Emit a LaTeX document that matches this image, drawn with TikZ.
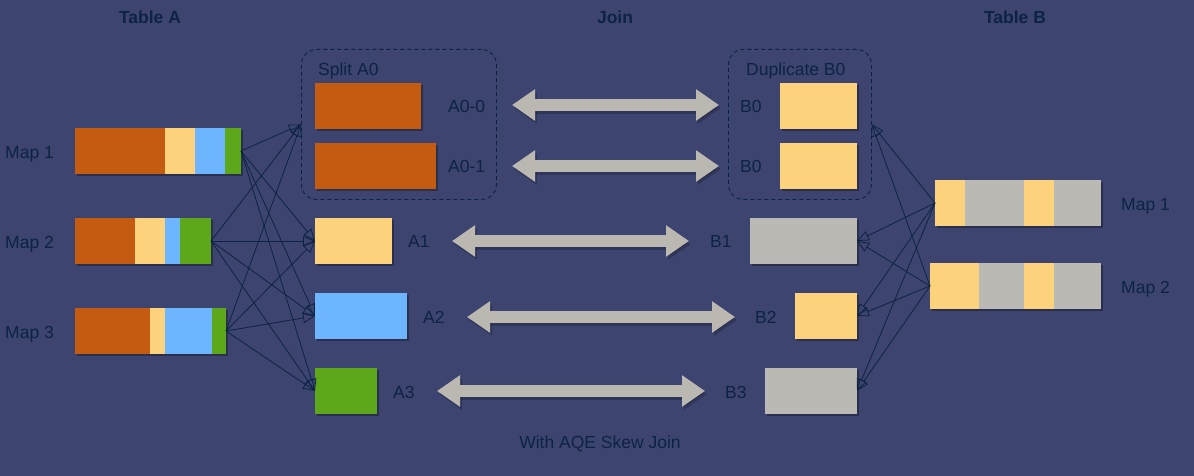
\documentclass[tikz,border=0pt]{standalone}
\usepackage{fontspec}
\setmainfont{Liberation Sans}
\usetikzlibrary{arrows.meta,shadows}
\definecolor{bg}{HTML}{3D4470}
\definecolor{txt}{HTML}{0C2344}
\definecolor{cor}{HTML}{C55A11}
\definecolor{cye}{HTML}{FDD27D}
\definecolor{cbl}{HTML}{6DB5FF}
\definecolor{cgr}{HTML}{5DA71B}
\definecolor{cgy}{HTML}{BBB9B3}
\definecolor{agrey}{HTML}{BAB8B1}
\begin{document}
\begin{tikzpicture}[x=1pt,y=-1pt,
  blk/.style={draw=none,inner sep=0pt,outer sep=0pt,anchor=north west,minimum height=46pt,
    drop shadow={shadow xshift=2pt,shadow yshift=-2pt,opacity=0.3,fill=black}},
  lbl/.style={text=txt,inner sep=0pt,text height=12.5pt,text depth=0pt,font=\fontsize{17.5}{20}\selectfont},
  ttl/.style={lbl,font=\fontsize{17.5}{20}\selectfont\bfseries},
  grp/.style={draw=txt,dash pattern=on 4pt off 3pt,rounded corners=15pt,line width=0.9pt,
    inner sep=0pt,anchor=north west},
  conn/.style={draw=txt,line width=0.8pt,-{Triangle[open,length=12pt,width=10pt]}},
  jarrow/.style={draw=agrey,line width=12pt,{Triangle[length=23pt,width=30pt]}-{Triangle[length=23pt,width=30pt]}},
  jshadow/.style={draw=black,opacity=0.2,line width=12pt,{Triangle[length=23pt,width=30pt]}-{Triangle[length=23pt,width=30pt]}},
]
\path[use as bounding box,fill=bg] (0,0) rectangle (1194,476);

% titles
\node[ttl] (tA) at (150,17) {Table A};
\node[ttl] (tJ) at (615,17) {Join};
\node[ttl] (tB) at (1015,17) {Table B};
\node[lbl] (foot) at (600,442) {With AQE Skew Join};

% Table A bars
\node[lbl,anchor=west] (lm1) at (5,152) {Map 1};
\node[lbl,anchor=west] (lm2) at (5,242) {Map 2};
\node[lbl,anchor=west] (lm3) at (5,332) {Map 3};

\node[blk,fill=cor,minimum width=90pt] (m1a) at (75,128) {};
\node[blk,fill=cye,minimum width=30pt] (m1b) at (165,128) {};
\node[blk,fill=cbl,minimum width=30pt] (m1c) at (195,128) {};
\node[blk,fill=cgr,minimum width=16pt] (m1g) at (225,128) {};

\node[blk,fill=cor,minimum width=60pt] (m2a) at (75,218) {};
\node[blk,fill=cye,minimum width=30pt] (m2b) at (135,218) {};
\node[blk,fill=cbl,minimum width=15pt] (m2c) at (165,218) {};
\node[blk,fill=cgr,minimum width=31pt] (m2g) at (180,218) {};

\node[blk,fill=cor,minimum width=75pt] (m3a) at (75,308) {};
\node[blk,fill=cye,minimum width=15pt] (m3b) at (150,308) {};
\node[blk,fill=cbl,minimum width=47pt] (m3c) at (165,308) {};
\node[blk,fill=cgr,minimum width=14pt] (m3g) at (212,308) {};

% Split A0 group
\node[grp,minimum width=195pt,minimum height=150pt] (split) at (301,49) {};
\node[lbl,anchor=west] (lsplit) at (318,69) {Split A0};
\node[blk,fill=cor,minimum width=106pt] (A00) at (315,83) {};
\node[blk,fill=cor,minimum width=121pt] (A01) at (315,143) {};
\node[lbl,anchor=west] (lA00) at (448,106) {A0-0};
\node[lbl,anchor=west] (lA01) at (448,166) {A0-1};

\node[blk,fill=cye,minimum width=77pt] (A1) at (315,218) {};
\node[blk,fill=cbl,minimum width=92pt] (A2) at (315,293) {};
\node[blk,fill=cgr,minimum width=62pt] (A3) at (315,368) {};
\node[lbl,anchor=west] (lA1) at (408,241) {A1};
\node[lbl,anchor=west] (lA2) at (423,317) {A2};
\node[lbl,anchor=west] (lA3) at (393,392) {A3};

% Duplicate B0 group
\node[grp,minimum width=143pt,minimum height=150pt] (dup) at (728,49) {};
\node[lbl,anchor=west] (ldup) at (746,69) {Duplicate B0};
\node[blk,fill=cye,minimum width=77pt] (B00) at (780,83) {};
\node[blk,fill=cye,minimum width=77pt] (B01) at (780,143) {};
\node[lbl,anchor=west] (lB00) at (740,106) {B0};
\node[lbl,anchor=west] (lB01) at (740,166) {B0};

\node[blk,fill=cgy,minimum width=107pt] (B1) at (750,218) {};
\node[blk,fill=cye,minimum width=62pt] (B2) at (795,293) {};
\node[blk,fill=cgy,minimum width=92pt] (B3) at (765,368) {};
\node[lbl,anchor=west] (lB1) at (710,241) {B1};
\node[lbl,anchor=west] (lB2) at (755,317) {B2};
\node[lbl,anchor=west] (lB3) at (725,392) {B3};

% Table B bars
\node[blk,fill=cye,minimum width=30pt] (n1a) at (935,180) {};
\node[blk,fill=cgy,minimum width=59pt] (n1b) at (965,180) {};
\node[blk,fill=cye,minimum width=30pt] (n1c) at (1024,180) {};
\node[blk,fill=cgy,minimum width=47pt] (n1d) at (1054,180) {};

\node[blk,fill=cye,minimum width=49pt] (n2a) at (930,263) {};
\node[blk,fill=cgy,minimum width=45pt] (n2b) at (979,263) {};
\node[blk,fill=cye,minimum width=30pt] (n2c) at (1024,263) {};
\node[blk,fill=cgy,minimum width=47pt] (n2d) at (1054,263) {};

\node[lbl,anchor=west] (rm1) at (1121,204) {Map 1};
\node[lbl,anchor=west] (rm2) at (1121,287) {Map 2};

% connectors left
\foreach \s in {m1g,m2g,m3g}{
  \draw[conn] (\s.east) -- (split.west);
  \draw[conn] (\s.east) -- (A1.west);
  \draw[conn] (\s.east) -- (A2.west);
  \draw[conn] (\s.east) -- (A3.west);
}
% connectors right
\foreach \s in {n1a,n2a}{
  \draw[conn] (\s.west) -- (dup.east);
  \draw[conn] (\s.west) -- (B1.east);
  \draw[conn] (\s.west) -- (B2.east);
  \draw[conn] (\s.west) -- (B3.east);
}

% join arrows
\coordinate (j0a) at (512,105); \coordinate (j0b) at (719,105);
\coordinate (j1a) at (512,166); \coordinate (j1b) at (719,166);
\coordinate (j2a) at (452,241); \coordinate (j2b) at (689,241);
\coordinate (j3a) at (467,317); \coordinate (j3b) at (735,317);
\coordinate (j4a) at (437,391); \coordinate (j4b) at (705,391);
\foreach \k in {0,...,4}{
  \draw[jshadow] ([shift={(2,3)}]j\k a) -- ([shift={(2,3)}]j\k b);
  \draw[jarrow] (j\k a) -- (j\k b);
}
\end{tikzpicture}
\end{document}
